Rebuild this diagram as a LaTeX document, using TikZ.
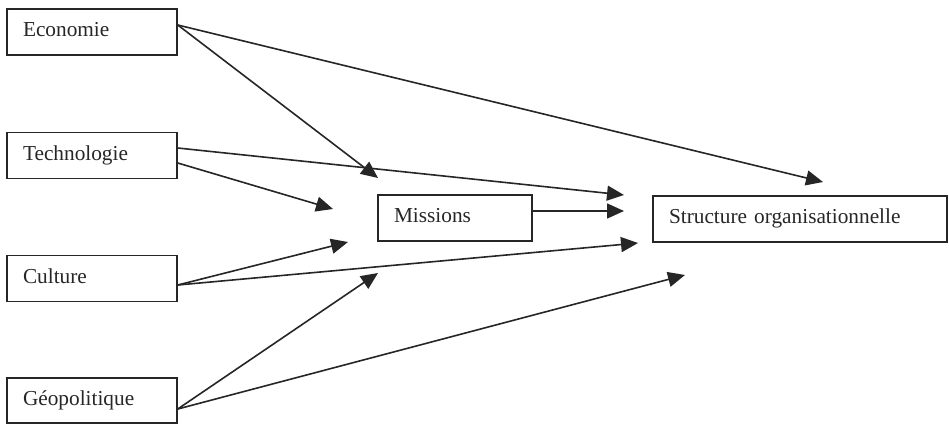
\documentclass[tikz,border=0pt]{standalone}
\usepackage{fontspec}
\setmainfont{Liberation Serif}
\usetikzlibrary{arrows.meta}
\tikzset{
  box/.style={draw=black!85, line width=1.5pt, inner xsep=16pt, inner ysep=0pt,
    minimum height=46pt, align=left, text height=14pt, text depth=5pt,
    font=\fontsize{21.3}{24}\selectfont, text=black!85},
  conn/.style={draw=black!85, line width=1.6pt,
    -{Triangle[length=17pt,width=15pt]}},
}
\begin{document}
\begin{tikzpicture}[x=1pt,y=-1pt]
\useasboundingbox (0,0) rectangle (949,423);
\begin{scope}
\clip (0,0) rectangle (949,423);
\node[box, text width=138pt] (eco) at (92,32) {Economie};
\node[box, text width=138pt] (tech) at (92,155.5) {Technologie};
\node[box, text width=138pt] (cult) at (92,278.5) {Culture};
\node[box, text width=138pt, minimum height=45pt] (geo) at (92,400.5) {Géopolitique};
\node[box, text width=122pt] (miss) at (455,218) {Missions};
\node[box, text width=262pt] (struct) at (800,219) {Structure organisationnelle};
\end{scope}
\coordinate (t1) at (823,182);
\coordinate (t2) at (378,178);
\coordinate (t3) at (624,195);
\coordinate (t4) at (333,209);
\coordinate (t5) at (624,211);
\coordinate (t6) at (348,242);
\coordinate (t7) at (638,243);
\coordinate (t8) at (378,273);
\coordinate (t9) at (685,275);
\draw[conn] ([yshift=7pt]eco.east) -- (t1);
\draw[conn] ([yshift=7pt]eco.east) -- (t2);
\draw[conn] ([yshift=7.5pt]tech.east) -- (t3);
\draw[conn] ([yshift=-7.5pt]tech.east) -- (t4);
\draw[conn] ([yshift=7pt]miss.east) -- (t5);
\draw[conn] ([yshift=-6.5pt]cult.east) -- (t6);
\draw[conn] ([yshift=-6.5pt]cult.east) -- (t7);
\draw[conn] ([yshift=-8.5pt]geo.east) -- (t8);
\draw[conn] ([yshift=-8.5pt]geo.east) -- (t9);
\end{tikzpicture}
\end{document}
